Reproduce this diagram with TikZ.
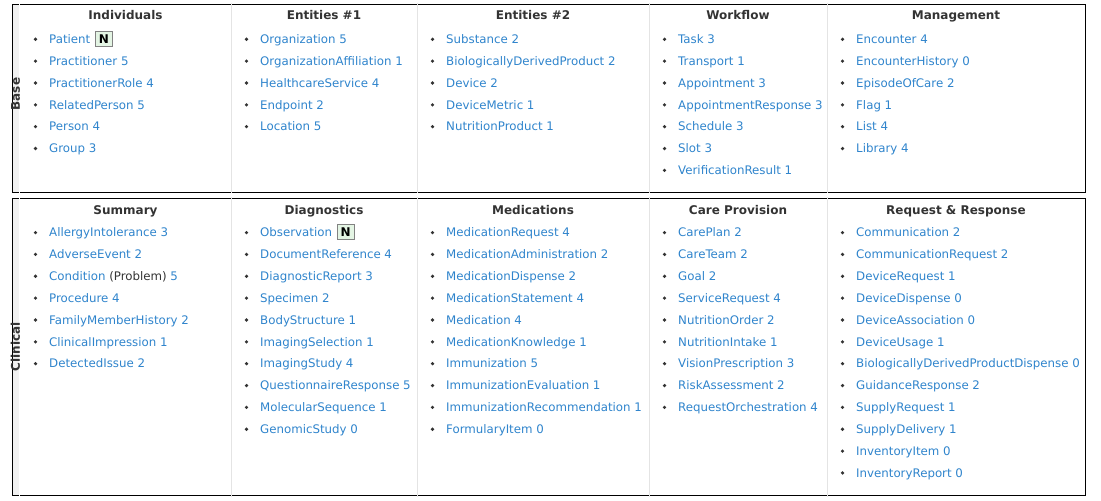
\documentclass[tikz,border=0pt]{standalone}
\usepackage{fontspec}
\setmainfont{DejaVu Sans}
\definecolor{linkblue}{RGB}{47,132,204}
\definecolor{headtext}{RGB}{51,51,51}
\definecolor{sepgray}{RGB}{228,228,228}
\definecolor{stripgray}{RGB}{241,241,241}
\definecolor{badgefill}{RGB}{228,245,228}
\definecolor{badgeline}{RGB}{130,130,130}
\tikzset{
  itemtext/.style={anchor=base west, inner sep=0pt, text=linkblue, font=\fontsize{11.8bp}{14bp}\selectfont},
  headtext/.style={anchor=base, inner sep=0pt, text=headtext, font=\bfseries\fontsize{12bp}{14bp}\selectfont},
  bulletdot/.style={circle, fill=headtext, inner sep=0pt, minimum size=3.6bp},
  framebox/.style={draw=black, line width=1.3bp},
  sepline/.style={draw=sepgray, line width=1bp},
  stripfill/.style={fill=stripgray},
  sidelabel/.style={rotate=90, inner sep=0pt, text=headtext, font=\bfseries\fontsize{12bp}{14bp}\selectfont},
  newbadge/.style={draw=badgeline, fill=badgefill, line width=0.9bp, text=black, inner sep=0pt,
    minimum width=17bp, minimum height=15bp, font=\bfseries\fontsize{12bp}{14bp}\selectfont}
}
\begin{document}
\begin{tikzpicture}[x=1bp,y=-1bp]
\useasboundingbox (0,0) rectangle (1101,501);
% frames and strips
\fill[stripgray] (13,5) rectangle (19,192);
\fill[stripgray] (13,199) rectangle (19,495);
\draw[framebox] (12.5,4.5) rectangle (1085.5,192.5);
\draw[framebox] (12.5,198.5) rectangle (1085.5,495.5);
\foreach \yy/\yb in {3.5/193.5, 197.5/496.5}{
  \draw[white, line width=1bp] (19.5,\yy) -- (19.5,\yb);
  \foreach \xx in {231.5,417.5,649.5,827.5}
    \draw[sepline] (\xx,\yy) -- (\xx,\yb);
}
% side labels
\node[sidelabel] (base) at (15.5,94) {Base};
\node[sidelabel] (clinical) at (15.5,347) {Clinical};
% top row
\foreach \colname/\xl/\xr/\itm [count=\c] in {
  Individuals/20/231/{Patient,Practitioner 5,PractitionerRole 4,RelatedPerson 5,Person 4,Group 3},
  Entities \#1/231/417/{Organization 5,OrganizationAffiliation 1,HealthcareService 4,Endpoint 2,Location 5},
  Entities \#2/417/649/{Substance 2,BiologicallyDerivedProduct 2,Device 2,DeviceMetric 1,NutritionProduct 1},
  Workflow/649/827/{Task 3,Transport 1,Appointment 3,AppointmentResponse 3,Schedule 3,Slot 3,VerificationResult 1},
  Management/827/1085/{Encounter 4,EncounterHistory 0,EpisodeOfCare 2,Flag 1,List 4,Library 4}}{
  \node[headtext] (th\c) at ({(\xl+\xr)/2},20) {\colname};
  \foreach \t [count=\k] in \itm {
    \node[itemtext] (t\c-\k) at (\xl+29,{43.5+21.85*(\k-1)}) {\t};
    \node[bulletdot] (tb\c-\k) at (\xl+15.5,{39.3+21.85*(\k-1)}) {};
  }
}
% bottom row
\foreach \colname/\xl/\xr/\itm [count=\c] in {
  Summary/20/231/{AllergyIntolerance 3,AdverseEvent 2,{Condition \textcolor{headtext}{(Problem)} 5},Procedure 4,FamilyMemberHistory 2,ClinicalImpression 1,DetectedIssue 2},
  Diagnostics/231/417/{Observation,DocumentReference 4,DiagnosticReport 3,Specimen 2,BodyStructure 1,ImagingSelection 1,ImagingStudy 4,QuestionnaireResponse 5,MolecularSequence 1,GenomicStudy 0},
  Medications/417/649/{MedicationRequest 4,MedicationAdministration 2,MedicationDispense 2,MedicationStatement 4,Medication 4,MedicationKnowledge 1,Immunization 5,ImmunizationEvaluation 1,ImmunizationRecommendation 1,FormularyItem 0},
  Care Provision/649/827/{CarePlan 2,CareTeam 2,Goal 2,ServiceRequest 4,NutritionOrder 2,NutritionIntake 1,VisionPrescription 3,RiskAssessment 2,RequestOrchestration 4},
  Request \& Response/827/1085/{Communication 2,CommunicationRequest 2,DeviceRequest 1,DeviceDispense 0,DeviceAssociation 0,DeviceUsage 1,BiologicallyDerivedProductDispense 0,GuidanceResponse 2,SupplyRequest 1,SupplyDelivery 1,InventoryItem 0,InventoryReport 0}}{
  \node[headtext] (bh\c) at ({(\xl+\xr)/2},215) {\colname};
  \foreach \t [count=\k] in \itm {
    \node[itemtext] (b\c-\k) at (\xl+29,{236.8+21.85*(\k-1)}) {\t};
    \node[bulletdot] (bb\c-\k) at (\xl+15.5,{232.6+21.85*(\k-1)}) {};
  }
}
% N badges
\node[newbadge, anchor=west] (patientN) at ([xshift=4.5bp]t1-1.east) {N};
\node[newbadge, anchor=west] (observationN) at ([xshift=4.5bp]b2-1.east) {N};
\end{tikzpicture}
\end{document}
